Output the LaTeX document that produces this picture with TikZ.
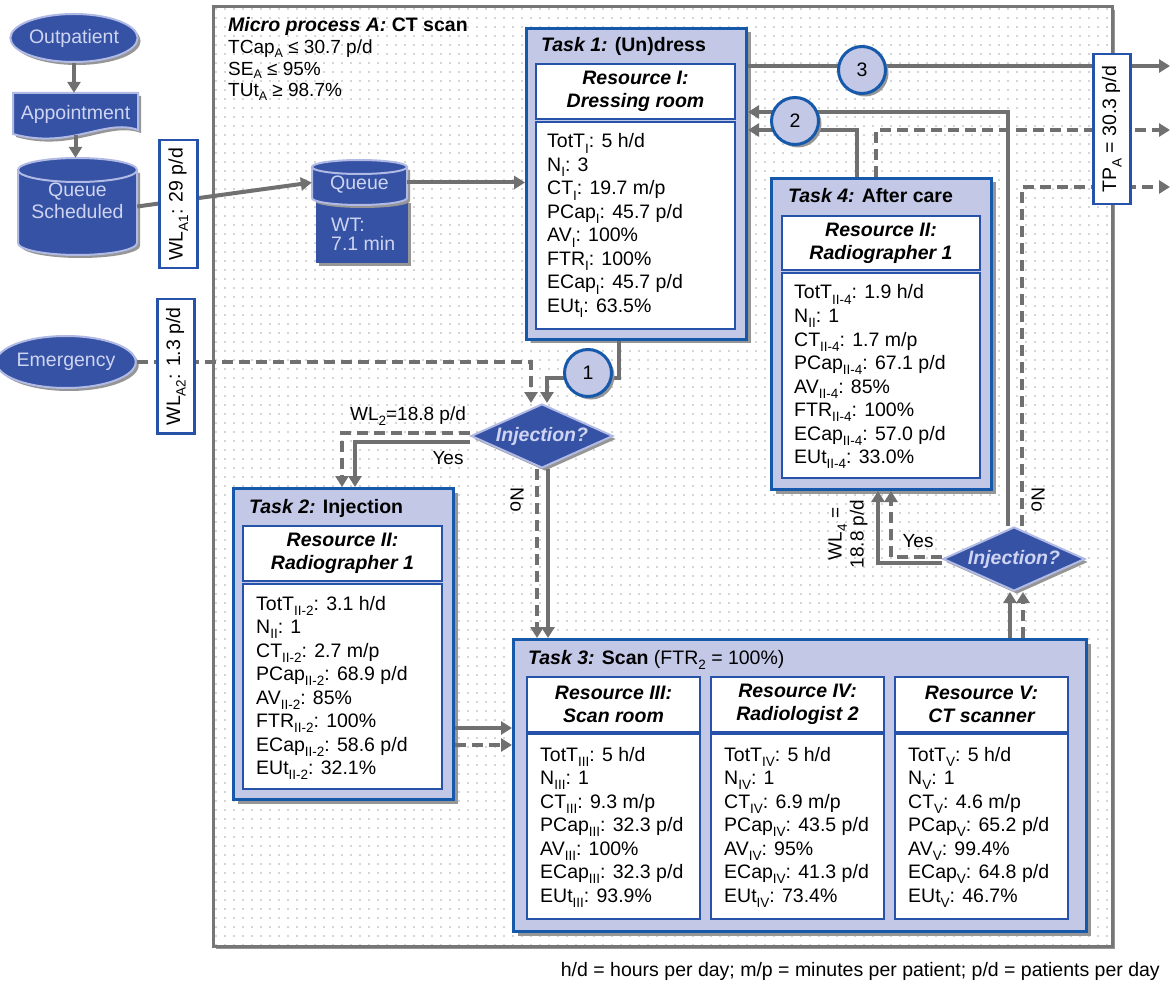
\documentclass[tikz,border=0pt]{standalone}
\usepackage{fontspec}
\setmainfont{Liberation Sans}
\usetikzlibrary{arrows.meta,shapes.geometric,shadows,patterns.meta}

\definecolor{shapeblue}{RGB}{54,82,164}
\definecolor{shapeedge}{RGB}{176,186,228}
\definecolor{shapetext}{RGB}{206,212,242}
\definecolor{taskfill}{RGB}{194,200,230}
\definecolor{taskedge}{RGB}{22,88,170}
\definecolor{inneredge}{RGB}{38,82,170}
\definecolor{conn}{RGB}{112,112,112}
\definecolor{dotc}{RGB}{170,170,170}
\definecolor{outeredge}{RGB}{118,118,118}
\definecolor{shadowc}{RGB}{150,150,150}

\newcommand\lowsub[1]{\raisebox{-0.28em}{\fontsize{13.5}{13.5}\selectfont #1}}
\newcommand\hsub[1]{\raisebox{-0.18em}{\fontsize{12.5}{12.5}\selectfont #1}}

\tikzdeclarepattern{name=bgdots, type=uncolored,
  bounding box={(-4.5pt,-4.5pt) and (4.5pt,4.5pt)},
  tile size={(9pt,9pt)},
  code={\fill (0pt,0pt) circle [radius=0.95pt];}}

\tikzset{
  txt/.style={font=\fontsize{19.5}{23.5}\selectfont, inner sep=0pt},
  lab/.style={font=\fontsize{19}{22}\selectfont, inner sep=0pt},
  hdr/.style={font=\fontsize{19.5}{23}\selectfont\bfseries\itshape, inner sep=0pt, align=center},
  stat/.style={font=\fontsize{19.5}{23.5}\selectfont, inner sep=0pt, anchor=base west},
  shp/.style={fill=shapeblue, draw=shapeedge, line width=2pt, text=shapetext,
    font=\fontsize{19.5}{23}\selectfont, inner sep=0pt,
    general shadow={fill=shadowc, shadow xshift=3pt, shadow yshift=-3pt}},
  taskbox/.style={fill=taskfill, draw=taskedge, line width=3pt, anchor=north west, inner sep=0pt,
    general shadow={fill=shadowc, shadow xshift=4pt, shadow yshift=-4pt}},
  resbox/.style={fill=white, draw=inneredge, line width=2pt, anchor=north west, inner sep=0pt},
  labbox/.style={fill=white, draw=inneredge, line width=2.5pt, anchor=north west, inner sep=0pt},
  numcirc/.style={circle, fill=taskfill, draw=taskedge, line width=3pt, minimum size=47pt, inner sep=0pt,
    font=\fontsize{19.5}{23}\selectfont,
    general shadow={fill=shadowc, shadow xshift=3pt, shadow yshift=-3pt}},
  dia/.style={diamond, aspect=2.2, minimum width=142pt, minimum height=64pt, inner sep=0pt,
    fill=shapeblue, draw=shapeedge, line width=2pt, text=shapetext,
    font=\fontsize{19.5}{23}\selectfont\bfseries\itshape,
    general shadow={fill=shadowc, shadow xshift=3pt, shadow yshift=-3pt}},
  flow/.style={draw=conn, line width=4pt, -{Triangle[length=11pt,width=13pt]}},
  flowd/.style={flow, dash pattern=on 11pt off 6pt},
}

\newcommand\statblock[4]{%
  \foreach \ln [count=\k from 0] in {#4}{%
    \node[stat] (#1\k) at (#2,#3+23.5*\k) {\ln};
  }%
}

\begin{document}
\begin{tikzpicture}[x=1pt,y=-1pt]
\useasboundingbox (0,0) rectangle (1172,981);

% ---------- outer micro process box ----------
\fill[shadowc] (216,10) rectangle (1115,949);
\draw[draw=outeredge, line width=3pt, fill=white] (213,7) rectangle (1112,946);
\fill[pattern={bgdots}, pattern color=dotc] (214.5,8.5) rectangle (1110.5,944.5);

\node[txt, anchor=base west] (mpa) at (228,32) {\textbf{\textit{Micro process A:}} \textbf{CT scan}};
\node[txt, anchor=base west, font=\fontsize{19}{20}\selectfont] (mp1) at (228,54) {TCap\hsub{A} ≤ 30.7 p/d};
\node[txt, anchor=base west, font=\fontsize{19}{20}\selectfont] (mp2) at (228,75.5) {SE\hsub{A} ≤ 95\%};
\node[txt, anchor=base west, font=\fontsize{19}{20}\selectfont] (mp3) at (228,97) {TUt\hsub{A} ≥ 98.7\%};

% ---------- left shapes ----------
\node[shp, ellipse, minimum width=108pt, minimum height=48pt] (outp) at (74,38) {Outpatient};

\fill[shadowc] (16,96) -- (141,96) -- (141,133) .. controls (108,121) and (73,153) .. (16,137) -- cycle;
\filldraw[fill=shapeblue, draw=shapeedge, line width=2pt] (13,93) -- (138,93) -- (138,130) .. controls (105,118) and (70,150) .. (13,134) -- cycle;
\node[txt, text=shapetext, minimum width=125pt, minimum height=42pt] (appt) at (75.5,114) {Appointment};

% queue scheduled cylinder
\fill[shadowc] (21,173) -- (21,246) arc[start angle=180,end angle=0,x radius=59.5,y radius=12] -- (140,173) -- cycle;
\filldraw[fill=shapeblue, draw=shapeedge, line width=2pt] (18,170) -- (18,243) arc[start angle=180,end angle=0,x radius=59.5,y radius=12] -- (137,170) -- cycle;
\filldraw[fill=shapeblue, draw=shapeedge, line width=2pt] (77.5,170) ellipse [x radius=59.5, y radius=12];
\node[minimum width=119pt, minimum height=97pt, inner sep=0pt] (qs) at (77.5,206.5) {};
\node[txt, text=shapetext, align=center, font=\fontsize{19.5}{22}\selectfont] (qst) at (77.5,201) {Queue\\Scheduled};

\node[shp, ellipse, minimum width=118pt, minimum height=52pt] (emer) at (66,362) {Emergency};

% queue + waiting time
\fill[shadowc] (319,203) rectangle (411,266);
\fill[shapeblue] (316,200) rectangle (408,263);
\fill[shadowc] (315,170) -- (315,201) arc[start angle=180,end angle=0,x radius=47.5,y radius=7] -- (410,170) -- cycle;
\filldraw[fill=shapeblue, draw=shapeedge, line width=2pt] (312,167) -- (312,198) arc[start angle=180,end angle=0,x radius=47.5,y radius=7] -- (407,167) -- cycle;
\filldraw[fill=shapeblue, draw=shapeedge, line width=2pt] (359.5,167) ellipse [x radius=47.5, y radius=7];
\node[minimum width=95pt, minimum height=45pt, inner sep=0pt] (q) at (359.5,182.5) {};
\node[txt, text=shapetext, anchor=base] (qt) at (359.5,190) {Queue};
\node[txt, text=shapetext, anchor=base west] (wt1) at (331,232) {WT:};
\node[txt, text=shapetext, anchor=base west] (wt2) at (331,250.5) {7.1 min};

% ---------- Task 1 ----------
\node[taskbox, minimum width=220pt, minimum height=311pt] (t1) at (525,27) {};
\node[resbox, minimum width=199pt, minimum height=55pt] (t1h) at (535,63) {};
\node[resbox, minimum width=199pt, minimum height=207pt] (t1s) at (535,121) {};
\node[txt, anchor=base west] (t1t) at (541,52) {\textbf{\textit{Task 1:}} \textbf{(Un)dress}};
\node[hdr] (t1ht) at (t1h.center) {Resource I:\\Dressing room};
\statblock{sa}{547}{148}{TotT\lowsub{I}: 5 h/d, N\lowsub{I}: 3, CT\lowsub{I}: 19.7 m/p, PCap\lowsub{I}: 45.7 p/d, AV\lowsub{I}: 100\%, FTR\lowsub{I}: 100\%, ECap\lowsub{I}: 45.7 p/d, EUt\lowsub{I}: 63.5\%}

% ---------- Task 4 ----------
\node[taskbox, minimum width=220pt, minimum height=311pt] (t4) at (770,177) {};
\node[resbox, minimum width=198pt, minimum height=54pt] (t4h) at (781,215) {};
\node[resbox, minimum width=198pt, minimum height=205pt] (t4s) at (781,272) {};
\node[txt, anchor=base west] (t4t) at (788,203) {\textbf{\textit{Task 4:}} \textbf{After care}};
\node[hdr] (t4ht) at (t4h.center) {Resource II:\\Radiographer 1};
\statblock{sd}{794}{299}{TotT\lowsub{II-4}: 1.9 h/d, N\lowsub{II}: 1, CT\lowsub{II-4}: 1.7 m/p, PCap\lowsub{II-4}: 67.1 p/d, AV\lowsub{II-4}: 85\%, FTR\lowsub{II-4}: 100\%, ECap\lowsub{II-4}: 57.0 p/d, EUt\lowsub{II-4}: 33.0\%}

% ---------- Task 2 ----------
\node[taskbox, minimum width=220pt, minimum height=311pt] (t2) at (232,487) {};
\node[resbox, minimum width=199pt, minimum height=55pt] (t2h) at (242,525) {};
\node[resbox, minimum width=199pt, minimum height=205pt] (t2s) at (242,583) {};
\node[txt, anchor=base west] (t2t) at (249,513) {\textbf{\textit{Task 2:}} \textbf{Injection}};
\node[hdr] (t2ht) at (t2h.center) {Resource II:\\Radiographer 1};
\statblock{sb}{256}{610}{TotT\lowsub{II-2}: 3.1 h/d, N\lowsub{II}: 1, CT\lowsub{II-2}: 2.7 m/p, PCap\lowsub{II-2}: 68.9 p/d, AV\lowsub{II-2}: 85\%, FTR\lowsub{II-2}: 100\%, ECap\lowsub{II-2}: 58.6 p/d, EUt\lowsub{II-2}: 32.1\%}

% ---------- Task 3 ----------
\node[taskbox, minimum width=573pt, minimum height=292pt] (t3) at (512,638) {};
\node[txt, anchor=base west] (t3t) at (528,664) {\textbf{\textit{Task 3:}} \textbf{Scan} (FTR\lowsub{2} = 100\%)};
\node[resbox, minimum width=173pt, minimum height=55pt] (r3h) at (526,676) {};
\node[resbox, minimum width=173pt, minimum height=185pt] (r3s) at (526,733) {};
\node[resbox, minimum width=173pt, minimum height=55pt] (r4h) at (710,676) {};
\node[resbox, minimum width=173pt, minimum height=185pt] (r4s) at (710,733) {};
\node[resbox, minimum width=173pt, minimum height=55pt] (r5h) at (894,676) {};
\node[resbox, minimum width=173pt, minimum height=185pt] (r5s) at (894,733) {};
\node[hdr] (r3ht) at (r3h.center) {Resource III:\\Scan room};
\node[hdr] (r4ht) at (r4h.center) {Resource IV:\\Radiologist 2};
\node[hdr] (r5ht) at (r5h.center) {Resource V:\\CT scanner};
\statblock{sc}{540}{761}{TotT\lowsub{III}: 5 h/d, N\lowsub{III}: 1, CT\lowsub{III}: 9.3 m/p, PCap\lowsub{III}: 32.3 p/d, AV\lowsub{III}: 100\%, ECap\lowsub{III}: 32.3 p/d, EUt\lowsub{III}: 93.9\%}
\statblock{se}{724}{761}{TotT\lowsub{IV}: 5 h/d, N\lowsub{IV}: 1, CT\lowsub{IV}: 6.9 m/p, PCap\lowsub{IV}: 43.5 p/d, AV\lowsub{IV}: 95\%, ECap\lowsub{IV}: 41.3 p/d, EUt\lowsub{IV}: 73.4\%}
\statblock{sf}{908}{761}{TotT\lowsub{V}: 5 h/d, N\lowsub{V}: 1, CT\lowsub{V}: 4.6 m/p, PCap\lowsub{V}: 65.2 p/d, AV\lowsub{V}: 99.4\%, ECap\lowsub{V}: 64.8 p/d, EUt\lowsub{V}: 46.7\%}

% ---------- decisions ----------
\node[dia] (d1) at (542,436) {Injection?};
\node[dia] (d2) at (1014,559) {Injection?};

% ---------- free ends ----------
\coordinate (o3) at (1170,66);
\coordinate (o1) at (1170,130);
\coordinate (o2) at (1170,187);

% ---------- connectors ----------
\draw[flow] (outp.south) -- (outp.south |- appt.north);
\draw[flow] (appt.south) -- (appt.south |- qs.north);
\draw[flow] (qs.east) -- (q.west);
\draw[flow] (q.east) -- (q.east -| t1.west);
\draw[flowd] (emer.east) -- (531,0 |- emer.east) -- (531,0 |- d1.north);
\draw[flow] (619,0 |- t1.south) |- (547,378) -- (547,0 |- d1.north);
\draw[flow] ([yshift=-6pt]d1.west) -| (355,0 |- t2.north);
\draw[flowd] ([yshift=3pt]d1.west) -| (342,0 |- t2.north);
\draw[flow] (548,0 |- d1.south) -- (548,0 |- t3.north);
\draw[flowd] (537,0 |- d1.south) -- (537,0 |- t3.north);
\draw[flow] (t2.east |- 0,728) -- (t3.west |- 0,728);
\draw[flowd] (t2.east |- 0,745) -- (t3.west |- 0,745);
\draw[flow] (1010,0 |- t3.north) -- (1010,0 |- d2.south);
\draw[flowd] (1023,0 |- t3.north) -- (1023,0 |- d2.south);
\draw[flow] ([yshift=-4pt]d2.west) -| (878,0 |- t4.south);
\draw[flowd] ([yshift=2pt]d2.west) -| (891,0 |- t4.south);
\draw[flow] (1008,0 |- d2.north) |- (t1.east |- 0,112);
\draw[flowd] (1022,0 |- d2.north) |- (o2);
\draw[flow] (857,0 |- t4.north) |- (t1.east |- 0,130);
\draw[flowd] (876,0 |- t4.north) |- (o1);
\draw[flow] (t1.east |- 0,66) -- (o3);

% ---------- circles and label boxes on top ----------
\node[numcirc] (c1) at (588,373) {1};
\node[numcirc] (c2) at (795,121) {2};
\node[numcirc] (c3) at (862,70) {3};

\node[labbox, minimum width=37pt, minimum height=150pt] (tp) at (1092,53) {};
\node[txt, rotate=90] (tpt) at (tp.center) {TP\lowsub{A} = 30.3 p/d};
\node[labbox, minimum width=38pt, minimum height=128pt] (wla1) at (158,139) {};
\node[txt, rotate=90] (wla1t) at (wla1.center) {WL\lowsub{A1}: 29 p/d};
\node[labbox, minimum width=37pt, minimum height=134pt] (wla2) at (156,298) {};
\node[txt, rotate=90] (wla2t) at (wla2.center) {WL\lowsub{A2}: 1.3 p/d};

% ---------- labels ----------
\node[lab] (l1) at (408,416) {WL\lowsub{2}=18.8 p/d};
\node[lab] (l2) at (448,458) {Yes};
\node[lab, rotate=-90] (l3) at (517,500) {No};
\node[lab] (l4) at (918,541) {Yes};
\node[lab, rotate=90, align=center] (l5) at (848,534) {WL\lowsub{4} =\\18.8 p/d};
\node[lab, rotate=-90] (l6) at (1038,500) {No};
\node[txt, anchor=base east] (note) at (1160,976) {h/d = hours per day; m/p = minutes per patient; p/d = patients per day};
\end{tikzpicture}
\end{document}
